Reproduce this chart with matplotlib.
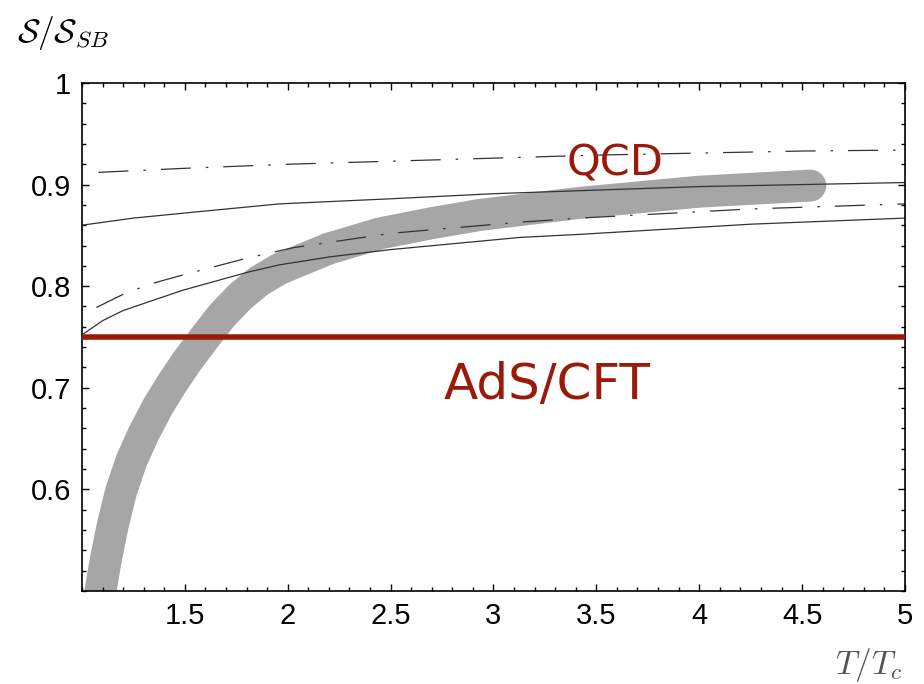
import matplotlib
matplotlib.use("Agg")
import matplotlib.pyplot as plt
from matplotlib.ticker import MultipleLocator, FixedLocator

plt.rcParams['mathtext.fontset'] = 'cm'

# lattice QCD band (thick grey)
qcd_T = [1.07, 1.09, 1.115, 1.15, 1.19, 1.24, 1.30, 1.37, 1.44, 1.51, 1.595, 1.68, 1.77,
         1.86, 1.96, 2.2, 2.45, 2.7, 2.93, 3.42, 4.0, 4.54]
qcd_s = [0.47, 0.50, 0.53, 0.565, 0.598, 0.628, 0.655, 0.682, 0.705, 0.726, 0.749, 0.771,
         0.790, 0.805, 0.817, 0.837, 0.852, 0.862, 0.870, 0.882, 0.893, 0.899]

# thin model curves
up_dd_T = [1.08, 1.5, 2.0, 2.5, 3.0, 3.5, 4.0, 4.5, 5.0]
up_dd_s = [0.912, 0.916, 0.920, 0.923, 0.926, 0.929, 0.931, 0.933, 0.934]
up_sl_T = [1.0, 1.25, 1.5, 1.96, 2.5, 3.0, 3.42, 4.0, 4.5, 5.0]
up_sl_s = [0.860, 0.867, 0.872, 0.881, 0.886, 0.891, 0.894, 0.898, 0.900, 0.902]
lo_dd_T = [1.07, 1.2, 1.33, 1.49, 1.81, 2.03, 2.5, 3.13, 3.42, 4.25, 5.0]
lo_dd_s = [0.779, 0.792, 0.802, 0.811, 0.828, 0.838, 0.852, 0.863, 0.867, 0.876, 0.881]
lo_sl_T = [1.0, 1.1, 1.2, 1.33, 1.49, 1.81, 1.96, 2.21, 2.5, 3.13, 3.42, 4.25, 5.0]
lo_sl_s = [0.752, 0.766, 0.776, 0.785, 0.796, 0.814, 0.821, 0.829, 0.836, 0.848, 0.851, 0.861, 0.867]

ads_value = 0.75

xticks = [1.5, 2, 2.5, 3, 3.5, 4, 4.5, 5]
xtick_labels = ["1.5", "2", "2.5", "3", "3.5", "4", "4.5", "5"]
yticks = [0.6, 0.7, 0.8, 0.9, 1.0]
ytick_labels = ["0.6", "0.7", "0.8", "0.9", "1"]

red = '#9a1a0a'
dashdot = (0, (24, 12, 2, 12))

fig = plt.figure(figsize=(9.24, 6.84), dpi=100)
ax = fig.add_axes([0.0887, 0.1360, 0.8907, 0.7427])

ax.plot(qcd_T, qcd_s, color='#a6a6a6', lw=23, solid_capstyle='round',
        solid_joinstyle='round', zorder=1)
ax.plot(up_dd_T, up_dd_s, color='#333333', lw=0.9, linestyle=dashdot, zorder=2)
ax.plot(up_sl_T, up_sl_s, color='#333333', lw=0.9, zorder=2)
ax.plot(lo_dd_T, lo_dd_s, color='#333333', lw=0.9, linestyle=dashdot, zorder=2)
ax.plot(lo_sl_T, lo_sl_s, color='#333333', lw=0.9, zorder=2)
ax.axhline(ads_value, color=red, lw=4, zorder=3)

ax.text(3.59, 0.921, "QCD", color=red, fontsize=31, ha='center', va='center', zorder=4)
ax.text(3.26, 0.703, "AdS/CFT", color=red, fontsize=36, ha='center', va='center', zorder=4)

ax.set_xlim(1.0, 5.0)
ax.set_ylim(0.5, 1.0)
ax.xaxis.set_major_locator(FixedLocator(xticks))
ax.set_xticklabels(xtick_labels)
ax.yaxis.set_major_locator(FixedLocator(yticks))
ax.set_yticklabels(ytick_labels)
ax.xaxis.set_minor_locator(MultipleLocator(0.1))
ax.yaxis.set_minor_locator(MultipleLocator(0.02))
ax.tick_params(which='both', direction='in', top=True, right=True, width=1)
ax.tick_params(which='major', length=5, labelsize=21, pad=8)
ax.tick_params(which='minor', length=3)
for lab in ax.get_xticklabels() + ax.get_yticklabels():
    lab.set_family('Liberation Sans')
for s in ax.spines.values():
    s.set_linewidth(1.2)

fig.text(0.018, 0.952, r"$\mathcal{S}/\mathcal{S}_{SB}$", fontsize=24, ha='left', va='center')
fig.text(0.977, 0.028, r"$T/T_c$", fontsize=24, ha='right', va='center', color='#555555')

fig.savefig("out.png", dpi=100)
